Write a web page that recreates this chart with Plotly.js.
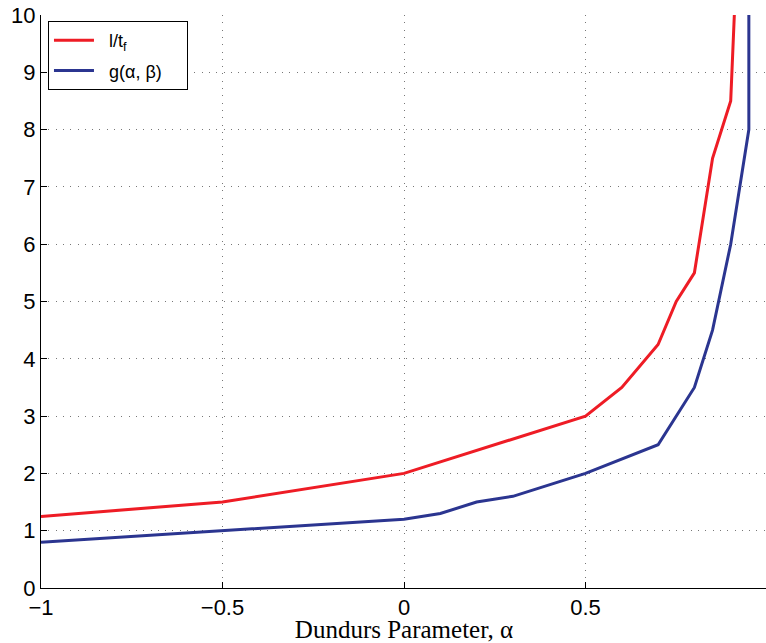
<!DOCTYPE html>
<html>
<head>
<meta charset="utf-8">
<script src="https://cdn.plot.ly/plotly-3.0.1.min.js"></script>
<style>
html,body{margin:0;padding:0;overflow:hidden;background:#fff;}
#chart{width:772px;height:643px;}
</style>
</head>
<body>
<div id="chart"></div>
<script>
// Data
const alphaRed = [-1, -0.5, 0, 0.5, 0.6, 0.7, 0.75, 0.8, 0.85, 0.9, 0.91];
const ltf      = [1.25, 1.5, 2, 3, 3.5, 4.25, 5, 5.5, 7.5, 8.5, 10];
const alphaBlue = [-1, -0.5, 0, 0.1, 0.2, 0.3, 0.5, 0.7, 0.8, 0.85, 0.9, 0.95, 0.95];
const gab       = [0.8, 1.0, 1.2, 1.3, 1.5, 1.6, 2.0, 2.5, 3.5, 4.5, 6, 8, 10];
const xTicks = [-1, -0.5, 0, 0.5, 1];
const xTickText = ['\u22121', '\u22120.5', '0', '0.5', '1'];
const yTicks = [0,1,2,3,4,5,6,7,8,9,10];
const seriesNames = ['l/t<sub>f</sub>', 'g(\u03b1, \u03b2)'];

const pad = '\u00a0\u00a0';
const traces = [
  {x: alphaRed, y: ltf, mode: 'lines', name: pad + seriesNames[0] + pad + pad, legendgroup: 'a',
   line: {color: '#ee1c25', width: 3}},
  {x: alphaBlue, y: gab, mode: 'lines', name: pad + seriesNames[1] + pad + pad, legendgroup: 'b',
   line: {color: '#2b3590', width: 3}}
];

const layout = {
  width: 772, height: 643,
  margin: {l: 41, r: 5, t: 15, b: 55},
  paper_bgcolor: '#fff', plot_bgcolor: '#fff',
  font: {family: 'Liberation Sans, Arial, sans-serif', size: 22, color: '#000'},
  showlegend: true,
  legend: {
    x: 0.0096, y: 0.9895, xanchor: 'left', yanchor: 'top',
    bgcolor: '#fff', bordercolor: '#000', borderwidth: 1,
    font: {family: 'Liberation Sans, Arial, sans-serif', size: 18},
    tracegroupgap: 4, itemwidth: 40
  },
  xaxis: {
    range: [-1, 1], tickvals: xTicks, ticktext: xTickText,
    ticks: 'inside', ticklen: 6, tickcolor: '#000',
    showline: true, linecolor: '#000', linewidth: 1, mirror: false,
    showgrid: true, gridcolor: '#777', griddash: '1px,6.3px', gridwidth: 1,
    zeroline: false,
    tickfont: {size: 22},
    title: {text: 'Dundurs Parameter, \u03b1', standoff: 0,
            font: {family: 'Liberation Serif, Times New Roman, serif', size: 25}}
  },
  yaxis: {
    range: [0, 10], tickvals: yTicks,
    ticks: 'inside', ticklen: 6, tickcolor: '#000',
    showline: true, linecolor: '#000', linewidth: 1,
    showgrid: true, gridcolor: '#777', griddash: '1px,6.3px', gridwidth: 1,
    zeroline: false,
    tickfont: {size: 22}
  }
};

Plotly.newPlot('chart', traces, layout, {staticPlot: true, displayModeBar: false});
</script>
</body>
</html>
